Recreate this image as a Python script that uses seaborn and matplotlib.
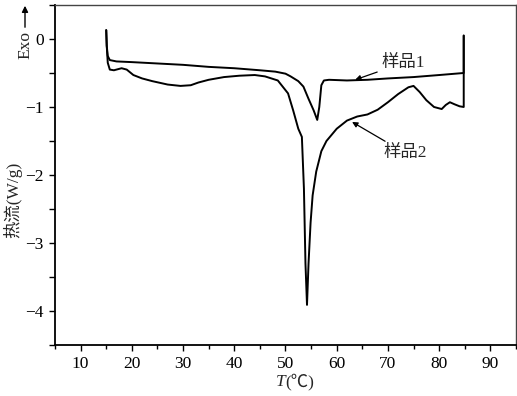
import numpy as np
import pandas as pd
import matplotlib
matplotlib.use('Agg')
import matplotlib.pyplot as plt
from matplotlib.ticker import MultipleLocator
import seaborn as sns

# DSC curves: temperature (°C) and heat flow (W/g)
t_s1 = [15.0, 15.1, 15.3, 15.7, 17, 20, 25, 30, 35, 40, 45, 48, 50, 51, 52.5,
        53.5, 54.5, 55.5, 56.2, 56.6, 57.0, 57.5, 58.5, 62, 66, 70, 75, 80,
        84.8, 84.8]
hf_s1 = [0.13, -0.10, -0.25, -0.31, -0.33, -0.34, -0.36, -0.38, -0.41, -0.43,
         -0.46, -0.48, -0.51, -0.55, -0.62, -0.70, -0.88, -1.05, -1.19, -1.00,
         -0.68, -0.61, -0.60, -0.61, -0.60, -0.58, -0.56, -0.53, -0.50, 0.05]

t_s2 = [15.0, 15.1, 15.3, 15.7, 16.5, 18, 19, 20.3, 22, 24, 27, 29.5, 31.5, 33,
        35, 38, 41, 44, 46, 48.5, 50.5, 51.5, 52.5, 53.2, 53.6, 53.9, 54.2,
        54.5, 54.9, 55.3, 56, 57, 58, 60, 62, 64, 66, 68, 70, 72, 74, 75, 76.2,
        77.5, 79, 80.5, 81.3, 82.1, 83, 84, 84.8, 84.8]
hf_s2 = [0.13, -0.10, -0.35, -0.45, -0.46, -0.43, -0.45, -0.53, -0.58, -0.62,
         -0.67, -0.69, -0.68, -0.64, -0.60, -0.56, -0.54, -0.53, -0.55, -0.61,
         -0.80, -1.05, -1.32, -1.44, -2.20, -3.30, -3.91, -3.30, -2.70, -2.30,
         -1.95, -1.65, -1.50, -1.32, -1.20, -1.14, -1.11, -1.04, -0.93, -0.81,
         -0.71, -0.69, -0.78, -0.90, -1.00, -1.03, -0.97, -0.93, -0.96, -0.99,
         -1.00, 0.05]

labels = ['样品1', '样品2']
label_text_pos = [(68.8, -0.35), (69.2, -1.68)]
label_arrow_tip = [(63.6, -0.60), (63.0, -1.22)]

sns.set_theme(style="ticks")
fonts = ['Liberation Serif', 'Noto Sans CJK SC']
plt.rcParams['font.family'] = fonts
plt.rcParams['axes.unicode_minus'] = True

fig = plt.figure(figsize=(5.17, 3.96), dpi=100)
ax = fig.add_axes([0.1064, 0.1288, 0.8916, 0.8586])

df1 = pd.DataFrame({'T': t_s1, 'hf': hf_s1})
df2 = pd.DataFrame({'T': t_s2, 'hf': hf_s2})
sns.lineplot(data=df1, x='T', y='hf', sort=False, estimator=None,
             color='black', linewidth=1.4, ax=ax)
sns.lineplot(data=df2, x='T', y='hf', sort=False, estimator=None,
             color='black', linewidth=1.4, ax=ax)

ax.set_xlim(5, 95)
ax.set_ylim(-4.5, 0.5)
ax.xaxis.set_major_locator(MultipleLocator(10))
ax.xaxis.set_minor_locator(MultipleLocator(5))
ax.yaxis.set_major_locator(MultipleLocator(1))
ax.yaxis.set_minor_locator(MultipleLocator(0.5))
ax.set_xticks(np.arange(10, 91, 10))
ax.tick_params(axis='both', which='both', direction='out', labelsize=12.5,
               colors='black', pad=4)
ax.tick_params(axis='x', which='major', length=4, width=1.0)
ax.tick_params(axis='x', which='minor', length=3, width=1.0)
ax.tick_params(axis='y', which='both', length=4, width=1.0)
ax.tick_params(axis='y', which='minor', left=True)

for side in ['left', 'bottom']:
    ax.spines[side].set_linewidth(1.3)
    ax.spines[side].set_color('black')
for side in ['top', 'right']:
    ax.spines[side].set_visible(True)
    ax.spines[side].set_linewidth(1.0)
    ax.spines[side].set_color('#444444')

ax.set_xlabel('')
ax.set_ylabel('')
xc = 0.5 * (55 + 516) / 517
fig.text(xc, 1 - 382 / 396, 'T', style='italic', ha='right', va='center',
         fontsize=12.5, family=fonts)
fig.text(xc, 1 - 382 / 396, '(℃)', ha='left', va='center', fontsize=12.5,
         family=fonts)
fig.text(13 / 517, 1 - 200 / 396, '热流(W/g)', rotation=90, ha='center',
         va='center', fontsize=12.5)

# Exo arrow on the upper left
fig.text(25 / 517, 1 - 45 / 396, 'Exo', rotation=90, ha='center', va='center',
         fontsize=12.5)
ax.annotate('', xy=(25 / 517, 1 - 3 / 396), xytext=(25 / 517, 1 - 30 / 396),
            xycoords='figure fraction', textcoords='figure fraction',
            arrowprops=dict(arrowstyle='-|>', color='black', lw=1.0,
                            mutation_scale=9))

for lab, tpos, tip in zip(labels, label_text_pos, label_arrow_tip):
    ax.annotate(lab, xy=tip, xytext=tpos, ha='left', va='center',
                fontsize=12.5,
                arrowprops=dict(arrowstyle='-|>', color='black', lw=0.9,
                                mutation_scale=8, shrinkA=1, shrinkB=0))

fig.savefig('out.png', dpi=100)
